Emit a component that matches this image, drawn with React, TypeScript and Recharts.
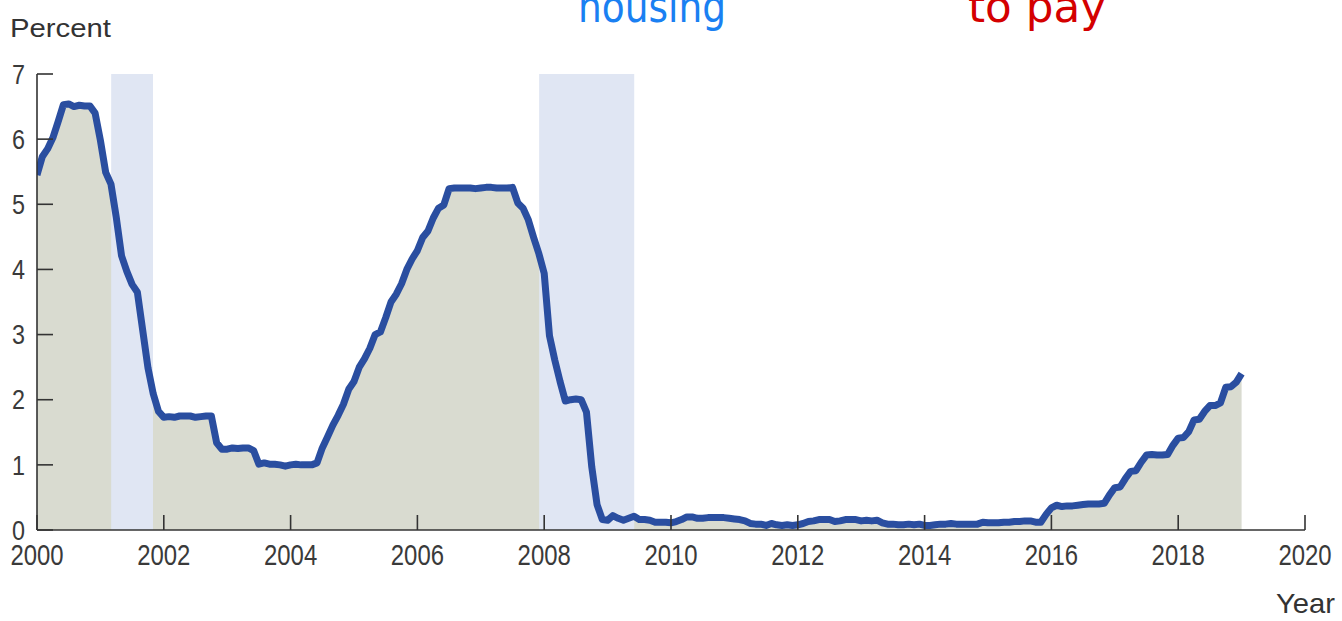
import React from "react";
import {
  ComposedChart,
  Area,
  Line,
  XAxis,
  YAxis,
  ReferenceArea,
} from "recharts";

// Effective federal funds rate, monthly (percent), Jan 2000 – Jan 2019
const startYear = 2000;
const rates2000 = [5.45, 5.73, 5.85, 6.02, 6.27, 6.53, 6.54, 6.5, 6.52, 6.51, 6.51, 6.4];
const rates2001 = [5.98, 5.49, 5.31, 4.8, 4.21, 3.97, 3.77, 3.65, 3.07, 2.49, 2.09, 1.82];
const rates2002 = [1.73, 1.74, 1.73, 1.75, 1.75, 1.75, 1.73, 1.74, 1.75, 1.75, 1.34, 1.24];
const rates2003 = [1.24, 1.26, 1.25, 1.26, 1.26, 1.22, 1.01, 1.03, 1.01, 1.01, 1.0, 0.98];
const rates2004 = [1.0, 1.01, 1.0, 1.0, 1.0, 1.03, 1.26, 1.43, 1.61, 1.76, 1.93, 2.16];
const rates2005 = [2.28, 2.5, 2.63, 2.79, 3.0, 3.04, 3.26, 3.5, 3.62, 3.78, 4.0, 4.16];
const rates2006 = [4.29, 4.49, 4.59, 4.79, 4.94, 4.99, 5.24, 5.25, 5.25, 5.25, 5.25, 5.24];
const rates2007 = [5.25, 5.26, 5.26, 5.25, 5.25, 5.25, 5.26, 5.02, 4.94, 4.76, 4.49, 4.24];
const rates2008 = [3.94, 2.98, 2.61, 2.28, 1.98, 2.0, 2.01, 2.0, 1.81, 0.97, 0.39, 0.16];
const rates2009 = [0.15, 0.22, 0.18, 0.15, 0.18, 0.21, 0.16, 0.16, 0.15, 0.12, 0.12, 0.12];
const rates2010 = [0.11, 0.13, 0.16, 0.2, 0.2, 0.18, 0.18, 0.19, 0.19, 0.19, 0.19, 0.18];
const rates2011 = [0.17, 0.16, 0.14, 0.1, 0.09, 0.09, 0.07, 0.1, 0.08, 0.07, 0.08, 0.07];
const rates2012 = [0.08, 0.1, 0.13, 0.14, 0.16, 0.16, 0.16, 0.13, 0.14, 0.16, 0.16, 0.16];
const rates2013 = [0.14, 0.15, 0.14, 0.15, 0.11, 0.09, 0.09, 0.08, 0.08, 0.09, 0.08, 0.09];
const rates2014 = [0.07, 0.07, 0.08, 0.09, 0.09, 0.1, 0.09, 0.09, 0.09, 0.09, 0.09, 0.12];
const rates2015 = [0.11, 0.11, 0.11, 0.12, 0.12, 0.13, 0.13, 0.14, 0.14, 0.12, 0.12, 0.24];
const rates2016 = [0.34, 0.38, 0.36, 0.37, 0.37, 0.38, 0.39, 0.4, 0.4, 0.4, 0.41, 0.54];
const rates2017 = [0.65, 0.66, 0.79, 0.9, 0.91, 1.04, 1.15, 1.16, 1.15, 1.15, 1.16, 1.3];
const rates2018 = [1.41, 1.42, 1.51, 1.69, 1.7, 1.82, 1.91, 1.91, 1.95, 2.19, 2.2, 2.27];
const rates2019 = [2.4];

const yearlyRates = [
  rates2000, rates2001, rates2002, rates2003, rates2004, rates2005, rates2006,
  rates2007, rates2008, rates2009, rates2010, rates2011, rates2012, rates2013,
  rates2014, rates2015, rates2016, rates2017, rates2018, rates2019,
];

// Recession periods (decimal years)
const recessionStarts = [2001.17, 2007.92];
const recessionEnds = [2001.83, 2009.42];

const xTicks = [2000, 2002, 2004, 2006, 2008, 2010, 2012, 2014, 2016, 2018, 2020];
const yTicks = [0, 1, 2, 3, 4, 5, 6, 7];

const data = yearlyRates.flatMap((arr, yi) =>
  arr.map((rate, mi) => ({ t: startYear + yi + mi / 12, rate }))
);

const FONT = "'Liberation Sans', Arial, Helvetica, sans-serif";
const AXIS = "#333333";
const TEXT = "#3a3a3a";

const Y_MARGIN = 12;
const X_MARGIN = 13;

const YTick = (props: any) => {
  const { x, y, payload } = props;
  const ax = x + Y_MARGIN;
  return (
    <g>
      <line x1={ax} x2={ax + 16} y1={y} y2={y} stroke={AXIS} strokeWidth={1.6} />
      <text
        x={x}
        y={y}
        dy="0.36em"
        textAnchor="end"
        fontFamily={FONT}
        fontSize={27}
        fill={TEXT}
        textLength={13}
        lengthAdjust="spacingAndGlyphs"
      >
        {payload.value}
      </text>
    </g>
  );
};

const XTick = (props: any) => {
  const { x, y, payload } = props;
  const ay = y - X_MARGIN;
  const label = String(payload.value);
  return (
    <g>
      <line x1={x} x2={x} y1={ay} y2={ay - 15} stroke={AXIS} strokeWidth={1.6} />
      <text
        x={x}
        y={y}
        dy="0.72em"
        textAnchor="middle"
        fontFamily={FONT}
        fontSize={30}
        fill={TEXT}
        textLength={label.length * 13.3}
        lengthAdjust="spacingAndGlyphs"
      >
        {label}
      </text>
    </g>
  );
};

export default function App() {
  return (
    <div
      style={{
        position: "absolute",
        left: 0,
        top: 0,
        width: 1342,
        height: 621,
        background: "#ffffff",
        overflow: "hidden",
      }}
    >
      <ComposedChart
        width={1342}
        height={621}
        data={data}
        margin={{ top: 74, right: 37, bottom: 0, left: 0 }}
      >
        <XAxis
          dataKey="t"
          type="number"
          domain={[2000, 2020]}
          ticks={xTicks}
          interval={0}
          height={91}
          tickSize={0}
          tickMargin={X_MARGIN}
          tick={<XTick />}
          axisLine={{ stroke: AXIS, strokeWidth: 1.6 }}
          tickLine={false}
          allowDataOverflow
        />
        <YAxis
          type="number"
          domain={[0, 7]}
          ticks={yTicks}
          interval={0}
          width={37}
          tickSize={0}
          tickMargin={Y_MARGIN}
          tick={<YTick />}
          axisLine={{ stroke: AXIS, strokeWidth: 1.6 }}
          tickLine={false}
        />
        <Area
          dataKey="rate"
          type="linear"
          fill="#d9dbd0"
          fillOpacity={1}
          stroke="none"
          isAnimationActive={false}
          zIndex={100}
        />
        {recessionStarts.map((s, i) => (
          <ReferenceArea
            key={i}
            x1={s}
            x2={recessionEnds[i]}
            y1={0}
            y2={7}
            fill="#e0e6f3"
            fillOpacity={1}
            stroke="none"
            zIndex={150}
          />
        ))}
        <Line
          dataKey="rate"
          type="linear"
          stroke="#2a4ea0"
          strokeWidth={7}
          strokeLinejoin="round"
          strokeLinecap="butt"
          dot={false}
          activeDot={false}
          isAnimationActive={false}
          zIndex={400}
        />
      </ComposedChart>
      <svg
        width={1342}
        height={621}
        style={{ position: "absolute", left: 0, top: 0, pointerEvents: "none" }}
      >
        <text x={10} y={37} fontFamily={FONT} fontSize={26} fill="#333" textLength={101} lengthAdjust="spacingAndGlyphs">
          Percent
        </text>
        <text x={1276} y={613} fontFamily={FONT} fontSize={28} fill="#333" textLength={59} lengthAdjust="spacingAndGlyphs">
          Year
        </text>
        <text x={578} y={22} fontFamily="'DejaVu Sans', sans-serif" fontSize={44} fill="#1a80f2" textLength={148} lengthAdjust="spacingAndGlyphs">
          housing
        </text>
        <text x={968} y={22} fontFamily="'DejaVu Sans', sans-serif" fontSize={44} fill="#d40000" textLength={138} lengthAdjust="spacingAndGlyphs">
          to pay
        </text>
      </svg>
    </div>
  );
}
